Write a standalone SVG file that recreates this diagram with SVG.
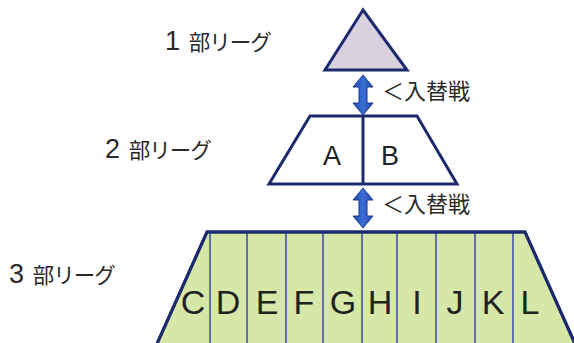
<svg xmlns="http://www.w3.org/2000/svg" width="574" height="343" viewBox="0 0 574 343">
<defs>
<style>
.lbl{font-family:"Noto Sans CJK JP","Noto Sans",sans-serif;font-size:22px;fill:#2a2a2a}
.lg{font-size:21.5px;letter-spacing:-1px}
.num{font-family:"Liberation Sans",Arial,sans-serif;font-size:27px}
.let{font-family:"Liberation Sans",Arial,sans-serif;fill:#222;text-anchor:middle}
.shape{stroke:#1c2a6e;stroke-width:3;stroke-linejoin:miter}
.div{stroke:#3848a8;stroke-width:1.5}
.arr{stroke:#1a3a8a;stroke-width:1}
</style>
<linearGradient id="ag" x1="0" y1="0" x2="1" y2="0">
<stop offset="0" stop-color="#1f48a8"/>
<stop offset="0.5" stop-color="#3a6fd6"/>
<stop offset="1" stop-color="#1f48a8"/>
</linearGradient>
<path id="dbl" d="M0,-20 L10,-8 L4,-8 L4,8 L10,8 L0,20 L-10,8 L-4,8 L-4,-8 L-10,-8 Z"/>
</defs>
<rect width="574" height="343" fill="#ffffff"/>
<g id="labels">
<text class="lbl lg" x="165" y="50"><tspan class="num">1</tspan><tspan dx="6"> 部リーグ</tspan></text>
<text class="lbl lg" x="105" y="158"><tspan class="num">2</tspan><tspan dx="6"> 部リーグ</tspan></text>
<text class="lbl lg" x="9" y="283"><tspan class="num">3</tspan><tspan dx="6"> 部リーグ</tspan></text>
</g>
<g id="league1">
<polygon class="shape" points="363,10 325,70 407,70" fill="#d9d1e0"/>
</g>
<g id="league2">
<polygon class="shape" points="310,116 417,116 457,184 269,184" fill="#ffffff"/>
<line class="shape" x1="363" y1="116" x2="363" y2="184" stroke-width="2"/>
<text class="let" x="332" y="165" font-size="27">A</text>
<text class="let" x="390" y="165" font-size="27">B</text>
</g>
<g id="league3">
<polygon class="shape" points="207,232 525,232 576,346 156,346" fill="#d6e7a8"/>
<g class="div">
<line x1="210" y1="232" x2="210" y2="343"/>
<line x1="247" y1="232" x2="247" y2="343"/>
<line x1="286" y1="232" x2="286" y2="343"/>
<line x1="323" y1="232" x2="323" y2="343"/>
<line x1="362" y1="232" x2="362" y2="343"/>
<line x1="397" y1="232" x2="397" y2="343"/>
<line x1="436" y1="232" x2="436" y2="343"/>
<line x1="475" y1="232" x2="475" y2="343"/>
<line x1="513" y1="232" x2="513" y2="343"/>
</g>
<polygon class="shape" points="207,232 525,232 576,346 156,346" fill="none"/>
<g font-size="34">
<text class="let" x="193" y="314">C</text>
<text class="let" x="228" y="314">D</text>
<text class="let" x="267" y="314">E</text>
<text class="let" x="304" y="314">F</text>
<text class="let" x="343" y="314">G</text>
<text class="let" x="380" y="314">H</text>
<text class="let" x="417" y="314">I</text>
<text class="let" x="455" y="314">J</text>
<text class="let" x="493" y="314">K</text>
<text class="let" x="530" y="314">L</text>
</g>
</g>
<g id="connectors">
<use href="#dbl" class="arr" style="fill:url(#ag)" transform="translate(363,95)"/>
<use href="#dbl" class="arr" style="fill:url(#ag)" transform="translate(363,208)"/>
<text class="lbl" x="382" y="99">＜入替戦</text>
<text class="lbl" x="382" y="212">＜入替戦</text>
</g>
</svg>
